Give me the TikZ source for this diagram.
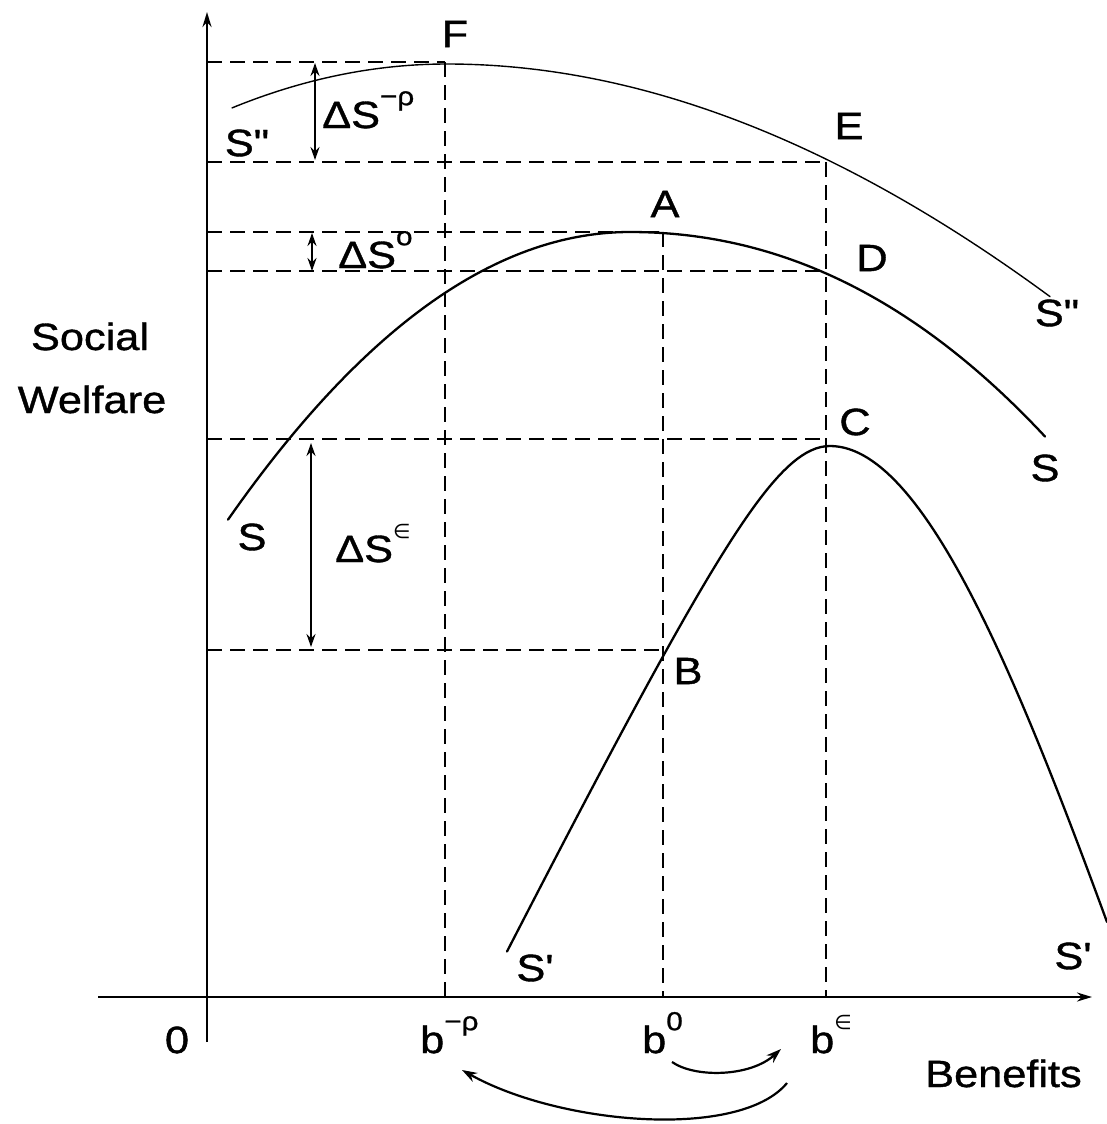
\documentclass[tikz,border=0pt]{standalone}
\usepackage{fontspec}
\usetikzlibrary{arrows.meta}
\newfontfamily\lab{Liberation Sans}[FakeStretch=1.14,FakeBold=1]
\newfontfamily\symf{DejaVu Sans}[FakeStretch=1.0]
\newcommand\supr[1]{\raisebox{0.6em}{\fontsize{26}{26}\selectfont #1}}
\newcommand\supe{\raisebox{0.62em}{\symf\fontsize{20}{20}\selectfont ∈}}

\begin{document}
\begin{tikzpicture}[x=1pt,y=-1pt,
 lbl/.style={font=\lab\fontsize{38}{40}\selectfont, inner sep=0pt},
 axis/.style={line width=2.3pt, -{Stealth[length=15pt,width=9pt]}},
 guide/.style={line width=2.2pt, dash pattern=on 15pt off 8pt},
 curve/.style={line width=2.3pt, line join=round, line cap=round},
 thincurve/.style={line width=1.4pt, line cap=round},
 dbl/.style={line width=2pt, {Stealth[length=13pt,width=9pt]}-{Stealth[length=13pt,width=9pt]}},
 bendarrow/.style={line width=2.2pt, -{Stealth[length=15pt,width=10pt]}}]
\useasboundingbox (0,0) rectangle (1107,1124);

% axes
\coordinate (ybot) at (207,1042);
\coordinate (ytop) at (207,12);
\coordinate (xl) at (98,997);
\coordinate (xr) at (1092,997);
\draw[axis] (ybot) -- (ytop);
\draw[axis] (xl) -- (xr);

% key points
\coordinate (pF) at (445,62);
\coordinate (pE) at (826,162);
\coordinate (pA) at (663,232);
\coordinate (pD) at (826,271);
\coordinate (pC) at (826,439);
\coordinate (pB) at (663,650);
\coordinate (fF) at (445,997);
\coordinate (fA) at (663,997);
\coordinate (fE) at (826,997);
\coordinate (aF) at (207,62);
\coordinate (aE) at (207,162);
\coordinate (aA) at (207,232);
\coordinate (aD) at (207,271);
\coordinate (aC) at (207,439);
\coordinate (aB) at (207,650);

% dashed guides
\draw[guide] (aF) -- (pF);
\draw[guide] (aE) -- (pE);
\draw[guide] (aA) -- (pA);
\draw[guide] (aD) -- (pD);
\draw[guide] (aC) -- (pC);
\draw[guide] (aB) -- (pB);
\draw[guide] (pF) -- (fF);
\draw[guide] (pA) -- (fA);
\draw[guide] (pE) -- (fE);

% curve S''
\draw[thincurve] plot[domain=232:447, samples=40] (\x, {64 + 9.5*((447-\x)/100)^2})
  -- plot[domain=447:1050, samples=80] (\x, {64 + 7.0*((\x-447)/100)^2 - 0.1*((\x-447)/100)^3});
% curve S
\draw[curve] plot[domain=228:630, samples=60] (\x, {232 + 17.8*((630-\x)/100)^2})
  -- plot[domain=630:1045, samples=60] (\x, {232 + 9.8*((\x-630)/100)^2 + 0.5*((\x-630)/100)^3});
% curve S'
\draw[curve] plot[domain=507:830, samples=70] (\x, {446 + 160*(sqrt(1+((830-\x)/80)^2)-1)})
  -- plot[domain=830:1107, samples=60] (\x, {446 + 87.8*((\x-830)/100)^2 - 9.3*((\x-830)/100)^3});

% double arrows
\coordinate (r1a) at (315,63);  \coordinate (r1b) at (315,160);
\coordinate (r2a) at (312,233); \coordinate (r2b) at (312,271);
\coordinate (r3a) at (311,443); \coordinate (r3b) at (311,647);
\draw[dbl] (r1a) -- (r1b);
\draw[dbl] (r2a) -- (r2b);
\draw[dbl] (r3a) -- (r3b);

% point labels
\node[lbl] (lF) at (455,34) {F};
\node[lbl] (lE) at (849,126) {E};
\node[lbl] (lA) at (665,204) {A};
\node[lbl] (lD) at (872,258) {D};
\node[lbl] (lC) at (855,422) {C};
\node[lbl] (lB) at (688,671) {B};

% curve labels
\node[lbl] (s2l) at (247,143) {S"};
\node[lbl] (s2r) at (1057,313) {S"};
\node[lbl] (s0l) at (252,537) {S};
\node[lbl] (s0r) at (1045,468) {S};
\node[lbl] (s1l) at (535,968) {S'};
\node[lbl] (s1r) at (1073,956) {S'};

% delta labels
\node[lbl, anchor=base west] (dSr) at (322,128) {ΔS\supr{−ρ}};
\node[lbl, anchor=base west] (dSo) at (338,268) {ΔS\supr{o}};
\node[lbl, anchor=base west] (dSe) at (335,562) {ΔS\supe};

% axis labels
\node[lbl, anchor=base] (soc) at (90,350) {Social};
\node[lbl, anchor=base] (wel) at (92,413) {Welfare};
\node[lbl, anchor=base west] (ben) at (925,1087) {Benefits};
\node[lbl] (zero) at (177,1040) {0};
\node[lbl, anchor=base west] (brho) at (420,1053) {b\supr{−ρ}};
\node[lbl, anchor=base west] (bzero) at (642,1053) {b\supr{0}};
\node[lbl, anchor=base west] (beps) at (810,1053) {b\supe};

% curved arrows
\coordinate (c1s) at (672,1062);
\coordinate (c1e) at (781,1049);
\coordinate (c2s) at (787,1083);
\coordinate (c2e) at (462,1070);
\draw[bendarrow] (c1s) .. controls (695,1078) and (750,1077) .. (c1e);
\draw[bendarrow] (c2s) .. controls (740,1140) and (560,1125) .. (c2e);
\end{tikzpicture}
\end{document}
